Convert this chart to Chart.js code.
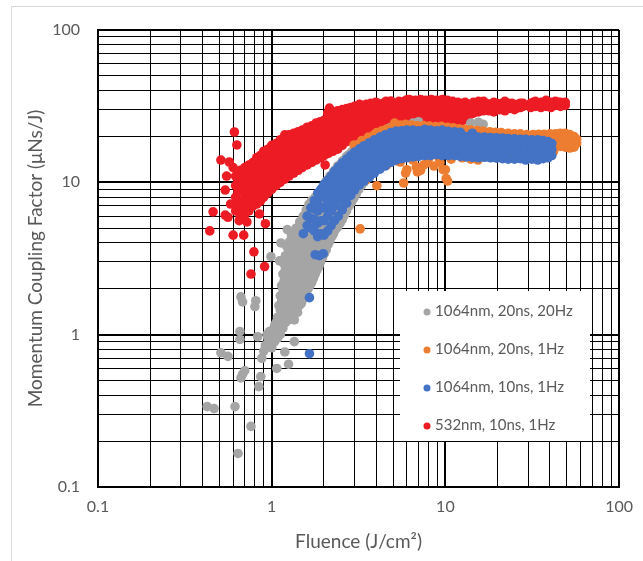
<!DOCTYPE html>
<html>
<head>
<meta charset="utf-8">
<script src="https://cdn.jsdelivr.net/npm/chart.js"></script>
<style>
  html, body { margin: 0; padding: 0; background: #fff; overflow: hidden; }
  #frame { position: absolute; left: 11px; top: 6px; width: 660px; height: 600px; border: 1px solid #d9d9d9; }
  #wrap { position: absolute; left: 0; top: 0; width: 643px; height: 561px; }
</style>
</head>
<body>
<div id="frame"></div>
<div id="wrap"><canvas id="myChart"></canvas></div>
<script>
// axis ranges and tick labels
const axisMin = 0.1;
const axisMax = 100;
const decades = [0.1, 1, 10];
const tickLabels = ['0.1', '1', '10', '100'];

const seriesNames = ['1064nm, 20ns, 20Hz', '1064nm, 20ns, 1Hz', '1064nm, 10ns, 1Hz', '532nm, 10ns, 1Hz'];
const seriesColors = ['#A5A5A5', '#ED7D31', '#4472C4', '#ED1C24'];

// 1064nm, 20ns, 20Hz  [fluence, coupling]
const gray20Hz = [
  [0.64,0.166],[0.76,0.25],[0.425,0.337],[0.466,0.327],[0.615,0.337],[0.843,0.456],[0.865,0.53],
  [0.665,0.52],[0.70,0.58],[0.68,0.55],[0.51,0.76],[0.56,0.72],[0.877,0.70],[0.656,1.05],[0.656,0.93],
  [0.83,0.97],[1.07,0.60],[1.25,0.64],[1.19,0.77],[1.35,0.90],[0.665,1.77],[0.68,1.64],[0.81,1.67],
  [0.80,1.53],[0.99,3.25],[1.11,3.05],[1.67,2.23],[0.92,0.85],[0.95,0.95],[0.9,0.78],[0.97,1.05],
  [1.0,0.82],[1.13,4.0],[1.23,4.9],[0.94,1.0],[1.03,0.95],
  [1.0,0.85],[1.0,0.95],[1.0,1.05],
  [1.04,0.9],[1.04,1.0],[1.04,1.15],
  [1.08,0.95],[1.08,1.1],[1.08,1.3],
  [1.12,1.0],[1.12,1.2],[1.12,1.45],[1.12,1.8],
  [1.16,1.1],[1.16,1.35],[1.16,1.65],[1.16,2.0],[1.16,2.5],
  [1.2,1.2],[1.2,1.45],[1.2,1.8],[1.2,2.2],[1.2,2.7],[1.2,3.3],
  [1.25,1.25],[1.25,1.55],[1.25,1.9],[1.25,2.35],[1.25,2.9],[1.25,3.6],
  [1.3,1.3],[1.3,1.65],[1.3,2.05],[1.3,2.5],[1.3,3.1],[1.3,3.8],[1.3,4.5],
  [1.35,1.25],[1.35,1.6],[1.35,2.0],[1.35,2.45],[1.35,3.0],[1.35,3.7],[1.38,5.0],
  [1.41,1.4],[1.41,1.75],[1.41,2.15],[1.41,2.65],[1.41,3.25],[1.41,4.0],[1.41,4.8],
  [1.48,1.6],[1.48,1.95],[1.48,2.4],[1.48,2.9],[1.48,3.5],[1.48,4.3],[1.45,5.5],
  [1.55,1.8],[1.55,2.2],[1.55,2.7],[1.55,3.25],[1.55,3.9],[1.55,4.7],[1.52,6.0],
  [1.62,2.0],[1.62,2.45],[1.62,3.0],[1.62,3.6],[1.62,4.3],[1.58,6.6],[1.64,7.2],
  [1.7,2.2],[1.7,2.7],[1.7,3.25],[1.7,3.9],[1.7,4.7],[1.7,7.6],
  [1.78,2.5],[1.78,3.0],[1.78,3.6],[1.78,4.3],[1.78,8.0],
  [1.87,2.8],[1.87,3.4],[1.87,4.0],[1.87,8.6],
  [1.96,3.2],[1.96,3.8],[1.96,9.3],
  [2.06,3.6],[2.06,4.3],[2.06,10.2],
  [2.16,4.1],[2.16,4.9],[2.16,11],
  [2.27,4.6],[2.27,5.4],[2.27,11.8],
  [2.4,5.1],[2.4,6.0],[2.4,12.8],
  [2.55,5.7],[2.55,6.7],[2.55,13.8],
  [2.7,6.5],[2.7,7.6],[2.7,14.8],
  [2.88,7.4],[2.88,8.6],[2.88,15.8],
  [3.07,8.4],[3.07,9.7],[3.07,16.8],
  [3.28,9.5],[3.28,10.8],[3.28,17.4],
  [3.5,10.5],[3.5,12],[3.5,18],
  [3.75,11.5],[3.75,13],[3.75,19.2],
  [4.05,12.5],[4.05,14],[4.05,20.4],
  [4.4,13.5],[4.4,15.1],[4.4,21.6],
  [4.8,14.8],[4.8,22.8],
  [5.3,16],[5.3,23.5],[6.5,24.5],[7,25],[14,24.5],[15.5,24.8],[16.5,24],
  [1.02,0.92],[1.02,1.08],
  [1.06,0.98],[1.06,1.2],
  [1.1,1.05],[1.1,1.25],[1.1,1.55],
  [1.14,1.12],[1.14,1.35],[1.14,1.65],[1.14,2.1],
  [1.18,1.2],[1.18,1.45],[1.18,1.8],[1.18,2.25],[1.18,2.9],
  [1.22,1.3],[1.22,1.6],[1.22,2.0],[1.22,2.5],[1.22,3.1],[1.22,3.8],
  [1.27,1.4],[1.27,1.75],[1.27,2.15],[1.27,2.65],[1.27,3.3],[1.27,4.1],
  [1.32,1.45],[1.32,1.8],[1.32,2.25],[1.32,2.8],[1.32,3.45],[1.32,4.2],
  [1.38,1.5],[1.38,1.85],[1.38,2.3],[1.38,2.85],[1.38,3.5],[1.38,4.3],
  [1.44,1.55],[1.44,1.95],[1.44,2.4],[1.44,2.95],[1.44,3.7],[1.44,4.6],
  [1.51,1.7],[1.51,2.1],[1.51,2.6],[1.51,3.2],[1.51,3.9],[1.51,4.9],
  [1.58,1.9],[1.58,2.35],[1.58,2.9],[1.58,3.5],[1.58,4.3],[1.58,5.3],
  [1.66,2.1],[1.66,2.6],[1.66,3.15],[1.66,3.8],[1.66,4.6],[1.66,5.6],[1.66,6.6],
  [1.74,2.35],[1.74,2.85],[1.74,3.45],[1.74,4.1],[1.74,5.0],[1.74,6.2],[1.74,7.2],
  [1.82,2.65],[1.82,3.2],[1.82,3.8],[1.82,4.6],[1.82,5.5],[1.82,6.6],[1.82,7.8],
  [1.91,3.0],[1.91,3.6],[1.91,4.3],[1.91,5.1],[1.91,6.1],[1.91,7.2],[1.91,8.5],
  [2.01,3.4],[2.01,4.1],[2.01,4.8],[2.01,5.7],[2.01,6.7],[2.01,7.9],[2.01,9.3],
  [2.11,3.9],[2.11,4.6],[2.11,5.4],[2.11,6.4],[2.11,7.5],[2.11,8.7],[2.11,10.1],
  [2.22,4.4],[2.22,5.2],[2.22,6.0],[2.22,7.1],[2.22,8.3],[2.22,9.6],[2.22,11],
  [2.33,4.9],[2.33,5.7],[2.33,6.7],[2.33,7.8],[2.33,9.1],[2.33,10.6],[2.33,12.1],
  [2.48,5.4],[2.48,6.4],[2.48,7.5],[2.48,8.7],[2.48,10],[2.48,11.6],[2.48,13.1],
  [2.62,6.1],[2.62,7.2],[2.62,8.3],[2.62,9.6],[2.62,11],[2.62,12.6],[2.62,14],
  [2.79,7.0],[2.79,8.1],[2.79,9.4],[2.79,10.7],[2.79,12.2],[2.79,13.8],[2.79,15.2],
  [2.98,7.9],[2.98,9.2],[2.98,10.5],[2.98,11.9],[2.98,13.4],[2.98,14.9],[2.98,16.3],
  [3.18,9],[3.18,10.3],[3.18,11.6],[3.18,13.1],[3.18,14.6],[3.18,16.2],
  [3.4,10],[3.4,11.4],[3.4,12.8],[3.4,14.3],[3.4,15.8],[3.4,17.4],
  [3.62,11],[3.62,12.5],[3.62,14],[3.62,15.5],[3.62,17],[3.62,18.6],
  [3.9,12],[3.9,13.5],[3.9,15],[3.9,16.6],[3.9,18.2],[3.9,19.8],
  [4.22,13],[4.22,14.5],[4.22,16.1],[4.22,17.8],[4.22,19.4],[4.22,21],
  [4.6,14.2],[4.6,15.7],[4.6,17.3],[4.6,19],[4.6,20.6],[4.6,22.2],
  [5.05,15.4],[5.05,17],[5.05,18.6],[5.05,20.2],[5.05,21.8],[5.05,23.4]
];

// 1064nm, 20ns, 1Hz
const orange1Hz = [
  [2.98,17.6],[3.0,15.8],[3.3,18.8],[3.6,19.8],[3.9,20.6],[4.03,21.2],[4.3,21.8],[4.6,22.4],[5.1,24.5],
  [5.0,23.2],[5.5,23.8],[5.9,24],[6.4,23.8],[6.9,23.5],[7.5,23.6],[8.1,23.4],[8.8,23.2],[9.5,23.3],
  [10.3,23],[11.1,22.8],[12,22.5],[13,22.3],[14,22.1],[15.2,21.9],[16.5,21.7],[18,21.5],[19.5,21.3],
  [21,21.2],[23,21],[25,20.8],[27,20.8],[29.5,20.6],[32,20.6],[34.5,20.7],[37,20.7],[40,20.8],
  [43,20.8],[46,21],[49,21],[52,20.6],[55,20],[57,19.2],[57,18],[55,17],[52,16.8],[49,17],[46,17.2],
  [43,17.6],[40,17.8],[37,18],[34,18.5],[43,19],[46,19],[49,19],[52,18.8],[55,18.5],[50,18],
  [45,18.2],[41,19.5],[54,19.8],[48,20],[39,16.5],[42,16],
  [20,14.8],[23,14.6],[26,14.8],[29,14.5],[33,14.6],[36,15],[39,15.2],[17,14.8],[14,14.2],
  [12.5,14.5],[10.8,14.2],[9.2,14.4],[8,14.3],[6.5,14],[5.5,13.6],
  [4.03,9.5],[5.75,9.9],[10.3,10.2],[10,12.1],[15.4,14],[6.9,11.7],[7.5,13],[6,12.1],[6.8,12.6],
  [7.8,13.4],[9.7,12.1],[10.1,10.6],[3.23,4.95],[3.5,10.4],[4.6,13],[5.3,13.8],[8.6,12.8],
  [9.3,13.5],[7.2,12],[5.9,11.5]
];

// 1064nm, 10ns, 1Hz
const blue1Hz = [
  [1.65,0.75],[1.65,1.75],[1.78,3.35],[1.88,3.3],[1.98,3.4],
  [1.52,4.6],[1.6,5.2],[1.6,6.0],
  [1.68,5.0],[1.68,5.8],[1.68,6.8],
  [1.76,4.8],[1.76,5.7],[1.76,6.7],[1.76,7.6],
  [1.84,4.4],[1.84,5.4],[1.84,6.5],[1.84,7.6],[1.84,8.5],
  [1.92,4.6],[1.92,5.6],[1.92,6.8],[1.92,8.0],[1.92,9.0],
  [2.0,4.5],[2.0,5.6],[2.0,6.8],[2.0,8.2],[2.0,9.7],
  [2.1,4.8],[2.1,6.0],[2.1,7.3],[2.1,8.7],[2.1,10.3],
  [2.2,5.2],[2.2,6.5],[2.2,7.8],[2.2,9.3],[2.2,11],
  [2.3,5.6],[2.3,7.0],[2.3,8.4],[2.3,10],[2.3,11.8],
  [2.42,6.0],[2.42,7.5],[2.42,9.0],[2.42,10.7],[2.42,12.6],
  [2.55,6.6],[2.55,8.1],[2.55,9.7],[2.55,11.4],[2.55,13.4],
  [2.7,7.3],[2.7,8.8],[2.7,10.4],[2.7,12.2],[2.7,14.2],
  [2.85,8.2],[2.85,9.6],[2.85,11.2],[2.85,13],[2.85,15],
  [3.0,8.9],[3.0,10.3],[3.0,12],[3.0,13.8],[3.0,15.8],
  [3.2,9.6],[3.2,11],[3.2,12.7],[3.2,14.6],[3.2,16.6],
  [3.4,10.2],[3.4,11.7],[3.4,13.4],[3.4,15.3],[3.4,17.4],
  [3.65,10.8],[3.65,12.3],[3.65,14],[3.65,16],[3.65,18.2],
  [3.9,11.5],[3.9,13],[3.9,14.8],[3.9,16.8],[3.9,19],
  [4.2,12.2],[4.2,13.8],[4.2,15.6],[4.2,17.6],[4.2,19.8],
  [4.5,12.8],[4.5,14.4],[4.5,16.2],[4.5,18.2],[4.5,20.5],
  [4.85,13.5],[4.85,15.1],[4.85,16.9],[4.85,18.9],[4.85,21.2],
  [5.2,14],[5.2,15.6],[5.2,17.4],[5.2,19.4],[5.2,21.7],
  [5.6,14.3],[5.6,16],[5.6,17.8],[5.6,19.8],[5.6,21.8],
  [6.0,14.5],[6.0,16.2],[6.0,18],[6.0,20],[6.0,22],
  [6.5,14.7],[6.5,16.4],[6.5,18.2],[6.5,20.2],[6.5,22],
  [7.0,14.8],[7.0,16.5],[7.0,18.3],[7.0,20.3],[7.0,21.8],
  [7.6,15],[7.6,16.7],[7.6,18.5],[7.6,20.4],[7.6,22.3],
  [8.2,15],[8.2,16.8],[8.2,18.6],[8.2,20.5],[8.2,22],
  [8.9,15.2],[8.9,16.9],[8.9,18.7],[8.9,20.5],[8.9,21.8],
  [9.6,15],[9.6,16.8],[9.6,18.6],[9.6,20.4],[9.6,22],
  [10.4,15],[10.4,16.8],[10.4,18.6],[10.4,20.4],[10.4,21.6],
  [11.3,15],[11.3,16.7],[11.3,18.5],[11.3,20.3],[11.3,21.5],
  [12.2,14.8],[12.2,16.6],[12.2,18.4],[12.2,20.2],[12.2,21.3],
  [13.2,14.7],[13.2,16.5],[13.2,18.3],[13.2,20],
  [14.3,14.6],[14.3,16.4],[14.3,18.2],[14.3,20],[14.3,21],
  [15.5,14.5],[15.5,16.3],[15.5,18.1],[15.5,19.8],
  [16.8,14.6],[16.8,16.3],[16.8,18],[16.8,19.8],
  [18.2,14.5],[18.2,16.2],[18.2,18],[18.2,19.7],
  [19.7,14.4],[19.7,16.1],[19.7,17.9],[19.7,19.6],
  [21.3,14.3],[21.3,16],[21.3,17.8],[21.3,19.5],
  [23,14.2],[23,16],[23,17.8],[23,19.4],
  [25,14.2],[25,15.9],[25,17.7],[25,19.3],
  [27,14.3],[27,16],[27,17.7],[27,19.2],
  [29,14],[29,15.8],[29,17.6],[29,19.2],
  [31.5,14.2],[31.5,15.9],[31.5,17.6],[31.5,19],
  [34,14],[34,15.7],[34,17.5],[34,19],
  [36.5,14.3],[36.5,15.9],[36.5,17.6],[36.5,18.8],
  [39,14.5],[39,16],[39,17.5],[39,18.5],
  [41,15],[41,16.5],[41,18]
];

// 532nm, 10ns, 1Hz
const red532 = [
  [0.44,4.8],[0.46,6.4],[0.51,14],[0.54,8.9],[0.54,6.1],[0.55,11],[0.56,5.9],[0.57,13.6],[0.58,7.2],
  [0.60,4.5],[0.60,12.5],[0.61,21.4],[0.63,17.6],[0.65,5.6],[0.69,4.5],[0.72,5.5],[0.76,2.5],
  [0.79,3.5],[0.85,6.2],[0.91,2.8],[0.92,5.35],
  [0.62,6.5],[0.62,8],[0.62,9.5],[0.62,11],
  [0.66,6],[0.66,7.5],[0.66,9],[0.66,10.5],[0.66,12],
  [0.7,6.2],[0.7,7.8],[0.7,9.5],[0.7,11],[0.7,12.5],
  [0.74,6.5],[0.74,8],[0.74,10],[0.74,11.5],[0.74,13],
  [0.78,7],[0.78,8.5],[0.78,10.5],[0.78,12],[0.78,13.5],
  [0.82,7.2],[0.82,9],[0.82,11],[0.82,12.5],[0.82,14.5],
  [0.86,7.5],[0.86,9.5],[0.86,11.5],[0.86,13.5],[0.86,15],
  [0.9,8],[0.9,10],[0.9,12],[0.9,14],[0.9,16],
  [0.95,8.5],[0.95,10.5],[0.95,12.5],[0.95,14.5],[0.95,16.5],
  [1.0,9],[1.0,11],[1.0,13],[1.0,15],[1.0,17.5],
  [1.06,9.5],[1.06,11.5],[1.06,13.5],[1.06,16],[1.06,18],
  [1.12,10],[1.12,12],[1.12,14.5],[1.12,16.5],[1.12,19],
  [1.19,10.5],[1.19,12.5],[1.19,15],[1.19,17.5],[1.19,20.5],
  [1.26,11],[1.26,13.5],[1.26,16],[1.26,18.5],[1.26,20.5],
  [1.34,11.5],[1.34,14],[1.34,16.5],[1.34,19],[1.34,21],
  [1.42,12],[1.42,14.5],[1.42,17],[1.42,19.5],[1.42,21.5],
  [1.5,12.5],[1.5,15],[1.5,17.5],[1.5,20],[1.5,22],
  [1.6,13],[1.6,15.5],[1.6,18],[1.6,20.5],[1.6,23],
  [1.7,13.5],[1.7,16],[1.7,18.5],[1.7,21],[1.7,23.5],
  [1.8,14],[1.8,16.5],[1.8,19],[1.8,21.5],[1.8,24.5],
  [1.9,14.5],[1.9,17],[1.9,19.5],[1.9,22],[1.9,25],
  [2.0,15],[2.0,17.5],[2.0,20],[2.0,22.5],[2.0,25.5],[2.03,13],
  [2.12,15.5],[2.12,18],[2.12,20.5],[2.12,23],[2.12,26],[2.15,30.7],[2.1,28.5],
  [2.25,16],[2.25,18.5],[2.25,21],[2.25,23.5],[2.25,26.5],[2.25,29],
  [2.4,16.5],[2.4,19],[2.4,21.5],[2.4,24],[2.4,27],[2.4,29.5],
  [2.55,17.5],[2.55,20],[2.55,22.5],[2.55,25],[2.55,28],[2.55,30],
  [2.7,18.5],[2.7,21],[2.7,23.5],[2.7,26],[2.7,28.5],[2.7,30.5],
  [2.85,19.5],[2.85,22],[2.85,24.5],[2.85,27],[2.85,29.5],[2.85,31],
  [3.0,20],[3.0,22.5],[3.0,25],[3.0,27.5],[3.0,30],[3.0,31.5],
  [3.2,21],[3.2,23.5],[3.2,26],[3.2,28.5],[3.2,31],[3.2,32.5],
  [3.4,21.5],[3.4,24],[3.4,26.5],[3.4,29],[3.4,31.5],
  [3.6,22],[3.6,24.5],[3.6,27],[3.6,29.5],[3.6,32],
  [3.85,22.5],[3.85,25],[3.85,27.5],[3.85,30],[3.85,32.5],
  [4.1,23],[4.1,25.5],[4.1,28],[4.1,30.5],[4.1,33],
  [4.4,23],[4.4,25.5],[4.4,28],[4.4,30.5],[4.4,33],
  [4.7,23.5],[4.7,26],[4.7,28.5],[4.7,31],[4.7,33.5],
  [5.0,23.5],[5.0,26],[5.0,28.5],[5.0,31],[5.0,33],
  [5.4,24],[5.4,26.5],[5.4,29],[5.4,31.5],[5.4,34],
  [5.8,24],[5.8,26.5],[5.8,29],[5.8,31.5],[5.8,34],
  [6.2,24],[6.2,26.5],[6.2,29],[6.2,31.5],[6.2,35],
  [6.7,24.5],[6.7,27],[6.7,29.5],[6.7,32],[6.7,34.5],
  [7.2,24.5],[7.2,27],[7.2,29.5],[7.2,32],[7.2,35],
  [7.7,24.5],[7.7,27],[7.7,29.5],[7.7,32],[7.7,34.5],
  [8.3,24.5],[8.3,27],[8.3,29.5],[8.3,32.5],[8.3,35],
  [8.9,25],[8.9,27.5],[8.9,30],[8.9,32.5],[8.9,34.5],
  [9.6,25],[9.6,27.5],[9.6,30],[9.6,32.5],[9.6,35],
  [10.3,25],[10.3,27.5],[10.3,30],[10.3,32.5],[10.3,34.5],
  [11,24.5],[11,27],[11,29.5],[11,32],[11,34],
  [11.8,24],[11.8,26.5],[11.8,29],[11.8,31.5],[11.8,33.5],
  [12.6,25.5],[12.6,28],[12.6,30.5],[12.6,33],
  [13.5,27],[13.5,29.5],[13.5,32],
  [14.5,28.5],[14.5,31],[14.5,33.5],
  [15.5,29],[15.5,31.5],[15.5,34],
  [16.6,29.5],[16.6,32],[16.6,34],
  [17.8,29.5],[17.8,32],
  [19,29],[19,31.5],[19,33.5],
  [20.5,30],[20.5,32.5],
  [22,29.5],[22,32],[22,34],
  [23.5,30.5],[23.5,32.5],
  [25,30],[25,32],
  [27,31],[27,33],
  [31,31],[31,33],
  [33,31.5],[33,34],
  [35.5,31],[35.5,33.5],
  [38,31.5],[38,34.5],
  [40.5,31],[40.5,33.5],
  [43,32],[43,34],
  [46,31.5],[46,33.5],
  [49,32],[49,33.5],
  [0.64,7.2],[0.64,8.7],[0.64,10.2],[0.64,11.5],
  [0.68,6.8],[0.68,8.6],[0.68,10.2],[0.68,11.7],
  [0.72,7],[0.72,8.8],[0.72,10.5],[0.72,12],
  [0.76,7.6],[0.76,9.3],[0.76,11],[0.76,12.6],
  [0.8,8],[0.8,9.8],[0.8,11.6],[0.8,13.5],
  [0.84,8.2],[0.84,10.2],[0.84,12.2],[0.84,14],
  [0.88,8.7],[0.88,10.8],[0.88,12.8],[0.88,15],
  [0.925,9.2],[0.925,11.2],[0.925,13.2],[0.925,15.2],
  [0.975,9.8],[0.975,11.8],[0.975,13.8],[0.975,16],
  [1.03,10.2],[1.03,12.2],[1.03,14.2],[1.03,16.8],
  [1.09,10.7],[1.09,12.8],[1.09,15],[1.09,17.2],
  [1.15,11],[1.15,13.2],[1.15,15.7],[1.15,18],
  [1.22,11.6],[1.22,13.8],[1.22,16.3],[1.22,19],
  [1.3,12.2],[1.3,14.7],[1.3,17.2],[1.3,19.8],
  [1.38,12.8],[1.38,15.2],[1.38,17.8],[1.38,20.3],
  [1.46,13.2],[1.46,15.8],[1.46,18.2],[1.46,20.8],
  [1.55,13.8],[1.55,16.2],[1.55,18.8],[1.55,21.3],
  [1.65,14.2],[1.65,16.8],[1.65,19.3],[1.65,22],
  [1.75,14.8],[1.75,17.2],[1.75,19.8],[1.75,22.5],
  [1.85,15.2],[1.85,17.8],[1.85,20.2],[1.85,23.2],
  [1.95,15.8],[1.95,18.2],[1.95,20.8],[1.95,23.8],
  [2.06,16.2],[2.06,18.8],[2.06,21.3],[2.06,24.2],
  [2.18,16.8],[2.18,19.5],[2.18,22],[2.18,24.8],[2.18,27.5],
  [2.32,17.2],[2.32,19.8],[2.32,22.3],[2.32,25],[2.32,28],
  [2.48,18],[2.48,20.8],[2.48,23.2],[2.48,25.8],[2.48,28.6],
  [2.62,19],[2.62,21.8],[2.62,24.2],[2.62,27],[2.62,29.3],
  [2.78,20],[2.78,22.7],[2.78,25.2],[2.78,28],[2.78,30],
  [2.92,20.8],[2.92,23.2],[2.92,25.8],[2.92,28.5],[2.92,30.8],
  [3.1,21.5],[3.1,24.2],[3.1,26.8],[3.1,29.2],[3.1,31.5],
  [3.3,22.2],[3.3,24.7],[3.3,27.2],[3.3,30],[3.3,32],
  [3.5,22.8],[3.5,25.2],[3.5,27.8],[3.5,30.2],[3.5,32.5],
  [3.72,23.2],[3.72,25.8],[3.72,28.2],[3.72,30.8],[3.72,33],
  [3.97,23.8],[3.97,26.2],[3.97,28.8],[3.97,31.2],[3.97,33.5],
  [4.25,24.2],[4.25,26.8],[4.25,29.2],[4.25,31.8],
  [4.55,24.3],[4.55,27],[4.55,29.6],[4.55,32.2],[4.55,34],
  [4.85,24.8],[4.85,27.2],[4.85,29.8],[4.85,32],[4.85,34.2],
  [5.2,25],[5.2,27.5],[5.2,30],[5.2,32.5],
  [5.6,25.2],[5.6,27.8],[5.6,30.2],[5.6,32.8],
  [6.0,25.3],[6.0,27.8],[6.0,30.3],[6.0,32.8],[6.0,34.8],
  [6.45,25.5],[6.45,28],[6.45,30.5],[6.45,33],
  [6.95,25.8],[6.95,28.3],[6.95,30.8],[6.95,33.3],
  [7.45,25.8],[7.45,28.3],[7.45,30.8],[7.45,33.3],
  [8.0,25.8],[8.0,28.3],[8.0,31],[8.0,33.7],
  [8.6,26],[8.6,28.8],[8.6,31.2],[8.6,33.6],
  [9.25,26.2],[9.25,28.8],[9.25,31.2],[9.25,33.8],
  [9.95,26.2],[9.95,28.8],[9.95,31.2],[9.95,33.6],
  [10.65,26],[10.65,28.5],[10.65,31],[10.65,33.3],
  [11.4,25.5],[11.4,28],[11.4,30.5],[11.4,33],
  [12.2,25.5],[12.2,27.5],[12.2,30],[12.2,32.5],
  [13,26.5],[13,28.8],[13,31.2],[13,33.5],
  [14,28],[14,30.2],[14,32.7],
  [15,29.8],[15,32.2],[16,30.2],[16,33],[17.2,30.8],[17.2,33],[18.4,30.5],[18.4,32.8],
  [19.8,31],[19.8,33],[21.2,31],[21.2,33],[22.8,31],[22.8,33.2],[24.2,31.2],[24.2,33],
  [26,30.8],[26,32.5],[28,31.5],[28,33],[32,32],[32,33.5],[34.2,32.2],[34.2,33],
  [36.8,32],[36.8,33.5],[39.2,32.5],[39.2,33.5],[41.8,32.2],[41.8,33],[44.5,32.5],[44.5,33.5],
  [47.5,32.8]
];

const seriesData = [gray20Hz, orange1Hz, blue1Hz, red532];
const drawOrder = [2, 1, 0, 3]; // blue on top, red underneath

// grid values 1..9 per decade
const gridValues = [];
decades.forEach(d => { for (let k = 1; k <= 9; k++) gridValues.push(d * k); });
gridValues.push(axisMax);

function isDecade(v) {
  const l = Math.log10(v);
  return Math.abs(l - Math.round(l)) < 1e-6;
}
function decadeLabel(v) {
  if (!isDecade(v)) return '';
  return tickLabels[Math.round(Math.log10(v)) + 1];
}

const textColor = '#595959';
const fontFamily = 'Lato, "Open Sans", sans-serif';

function logAxis(fitFn, titleText, titlePad, tickPad) {
  return {
    type: 'logarithmic',
    min: axisMin,
    max: axisMax,
    afterBuildTicks: (scale) => { scale.ticks = gridValues.map(v => ({ value: v })); },
    afterFit: fitFn,
    grid: {
      color: '#000',
      lineWidth: (ctx) => (ctx.tick && isDecade(ctx.tick.value)) ? 2 : 1,
      drawTicks: false
    },
    border: { color: '#000', width: 2 },
    ticks: {
      autoSkip: false,
      maxRotation: 0,
      padding: tickPad,
      color: textColor,
      font: { family: fontFamily, size: 16 },
      callback: (value) => decadeLabel(value)
    },
    title: {
      display: true,
      text: titleText,
      color: textColor,
      font: { family: fontFamily, size: 19 },
      padding: titlePad
    }
  };
}

// legend drawn inside the plot area, like the original
const insideLegend = {
  id: 'insideLegend',
  afterDraw(chart) {
    const ctx = chart.ctx;
    ctx.save();
    ctx.fillStyle = '#fff';
    ctx.fillRect(400, 291, 190, 150);
    ctx.font = '15px ' + fontFamily;
    ctx.textBaseline = 'middle';
    seriesNames.forEach((name, i) => {
      const y = 311 + i * 38;
      ctx.fillStyle = seriesColors[i];
      ctx.beginPath();
      ctx.arc(427, y + 1, 3.5, 0, Math.PI * 2);
      ctx.fill();
      ctx.fillStyle = textColor;
      ctx.fillText(name, 435, y);
    });
    ctx.restore();
  }
};

const ctx = document.getElementById('myChart').getContext('2d');
new Chart(ctx, {
  type: 'scatter',
  data: {
    datasets: seriesData.map((pts, i) => ({
      label: seriesNames[i],
      data: pts.map(p => ({ x: p[0], y: p[1] })),
      backgroundColor: seriesColors[i],
      borderWidth: 0,
      pointRadius: 4.8,
      pointHoverRadius: 4.8,
      order: drawOrder[i]
    }))
  },
  options: {
    responsive: true,
    maintainAspectRatio: false,
    animation: false,
    layout: { padding: { left: 12, top: 30, right: 19, bottom: 8 } },
    plugins: {
      legend: { display: false },
      tooltip: { enabled: false }
    },
    scales: {
      x: logAxis((s) => { s.height = 66; }, 'Fluence (J/cm\u00B2)', { top: 0, bottom: 0 }, 10),
      y: logAxis((s) => { s.width = 86; }, 'Momentum Coupling Factor (\u03BCNs/J)', { top: 12, bottom: 12 }, 18)
    }
  },
  plugins: [insideLegend]
});
</script>
</body>
</html>
